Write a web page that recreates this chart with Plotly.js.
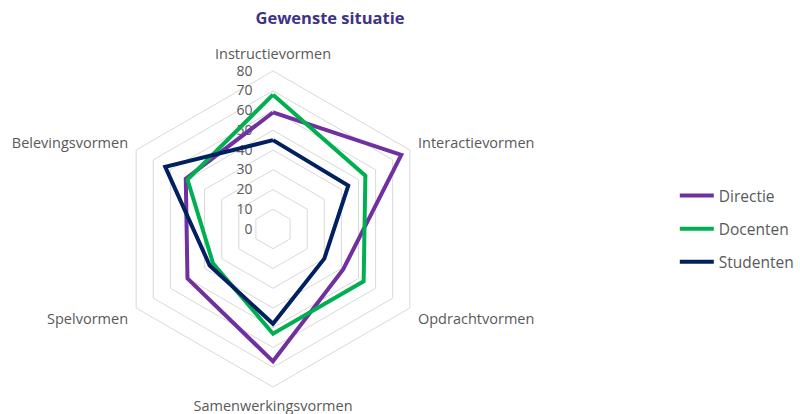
<!DOCTYPE html>
<html>
<head>
<meta charset="utf-8">
<script src="https://cdn.plot.ly/plotly-3.0.1.min.js"></script>
<style>
  html, body { margin: 0; padding: 0; background: #fff; }
  #radar { width: 800px; height: 414px; }
</style>
</head>
<body>
<div id="radar"></div>
<script>
const vormen = ["Instructievormen", "Interactievormen", "Opdrachtvormen", "Samenwerkingsvormen", "Spelvormen", "Belevingsvormen"];
const directie = [59, 75, 41, 67, 50, 51];
const docenten = [68, 54, 53, 53, 35, 50];
const studenten = [45, 44, 30, 48, 37, 63];

const reeksen = [
  { naam: "Directie", waarden: directie, kleur: "#7030a0" },
  { naam: "Docenten", waarden: docenten, kleur: "#00b050" },
  { naam: "Studenten", waarden: studenten, kleur: "#002060" }
];

// sluit de veelhoek door het eerste punt te herhalen
const traces = reeksen.map(s => ({
  type: "scatterpolar",
  mode: "lines",
  name: s.naam,
  legendgroup: s.naam,
  r: s.waarden.concat([s.waarden[0]]),
  theta: vormen.concat([vormen[0]]),
  line: { color: s.kleur, width: 4 }
}));

const grijs = "#595959";

Plotly.newPlot("radar", traces, {
  width: 800,
  height: 414,
  margin: { l: 0, r: 0, t: 0, b: 0, autoexpand: false },
  paper_bgcolor: "#fff",
  font: { family: "Open Sans, sans-serif", color: grijs, size: 13 },
  title: {
    text: "<b>Gewenste situatie</b>",
    x: 0.4125,
    xanchor: "center",
    y: 0.957,
    yanchor: "middle",
    font: { size: 16.5, color: "#3f3385", family: "Open Sans, sans-serif" }
  },
  polar: {
    domain: { x: [0.14375, 0.53875], y: [0.0652, 0.8285] },
    gridshape: "linear",
    bgcolor: "#fff",
    radialaxis: {
      range: [0, 80],
      dtick: 10,
      angle: 90,
      tickangle: 90,
      side: "counterclockwise",
      layer: "below traces",
      showline: false,
      ticks: "outside",
      ticklen: 15,
      tickcolor: "rgba(0,0,0,0)",
      gridcolor: "#d9d9d9",
      gridwidth: 1,
      tickfont: { size: 14, color: grijs }
    },
    angularaxis: {
      rotation: 90,
      direction: "clockwise",
      layer: "below traces",
      showgrid: false,
      showline: true,
      linecolor: "#d9d9d9",
      linewidth: 1,
      ticks: "outside",
      ticklen: 6,
      tickcolor: "rgba(0,0,0,0)",
      tickfont: { size: 14.5, color: grijs }
    }
  },
  legend: {
    x: 0.8435,
    xanchor: "left",
    y: 0.447,
    yanchor: "middle",
    itemwidth: 34,
    tracegroupgap: 10,
    font: { size: 15.5, color: grijs }
  },
  showlegend: true
}, { displayModeBar: false });
</script>
</body>
</html>
